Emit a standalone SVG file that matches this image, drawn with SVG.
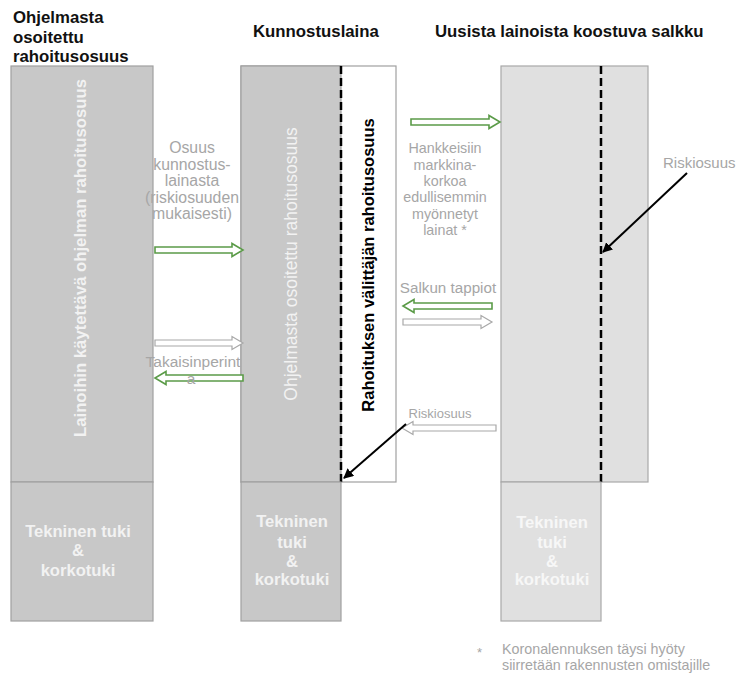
<svg xmlns="http://www.w3.org/2000/svg" width="737" height="680" viewBox="0 0 737 680">
<style>
.hd{font-family:"Liberation Sans",Arial,sans-serif;font-weight:bold;font-size:16.8px;fill:#111}
.lb{font-family:"Liberation Sans",Arial,sans-serif;fill:#a6a6a6}
.wt{font-family:"Liberation Sans",Arial,sans-serif;font-weight:bold;font-size:16.6px;fill:#f2f2f2;text-anchor:middle}
.box{fill:#c8c8c8;stroke:#a0a0a0;stroke-width:1.2}
.lbox{fill:#e0e0e0;stroke:#a8a8a8;stroke-width:1.2}
.dash{stroke:#000;stroke-width:2.5;stroke-dasharray:8,4;fill:none}
.ga{fill:#fff;stroke:#5b9b48;stroke-width:1.6}
.wa{fill:#fff;stroke:#a8a8a8;stroke-width:1.2}
.bl{stroke:#000;stroke-width:2;fill:none;marker-end:url(#ah)}
</style>
<defs>
<marker id="ah" viewBox="0 0 10 10" refX="9" refY="5" markerWidth="5" markerHeight="5" orient="auto">
<path d="M0,0 L10,5 L0,10 Z" fill="#000"/>
</marker>
</defs>
<rect width="737" height="680" fill="#fff"/>
<g id="headers">
<text class="hd" x="13" y="23">Ohjelmasta</text>
<text class="hd" x="13" y="43">osoitettu</text>
<text class="hd" x="13" y="62">rahoitusosuus</text>
<text class="hd" x="253" y="37">Kunnostuslaina</text>
<text class="hd" x="435" y="37">Uusista lainoista koostuva salkku</text>
</g>
<g id="col1">
<rect class="box" x="11" y="66" width="142" height="416"/>
<text class="wt" transform="translate(86,258) rotate(-90)" style="font-size:16.7px">Lainoihin käytettävä ohjelman rahoitusosuus</text>
</g>
<g id="col1-bottom">
<rect class="box" x="11" y="482" width="142" height="139"/>
<text class="wt" x="78" y="537">Tekninen tuki</text>
<text class="wt" x="78" y="556">&amp;</text>
<text class="wt" x="78" y="576">korkotuki</text>
</g>
<g id="col2">
<rect x="241" y="66" width="155" height="416" fill="#fff" stroke="#a0a0a0" stroke-width="1.2"/>
<rect class="box" x="241" y="66" width="100" height="416"/>
<text transform="translate(297,264) rotate(-90)" text-anchor="middle" font-family="Liberation Sans, Arial, sans-serif" font-size="17.5" fill="#f2f2f2">Ohjelmasta osoitettu rahoitusosuus</text>
<text transform="translate(374,265) rotate(-90)" text-anchor="middle" font-family="Liberation Sans, Arial, sans-serif" font-weight="bold" font-size="16.5" fill="#000">Rahoituksen välittäjän rahoitusosuus</text>
<line class="dash" x1="341" y1="66" x2="341" y2="482"/>
</g>
<g id="col2-bottom">
<rect class="box" x="241" y="482" width="100" height="139"/>
<text class="wt" x="292" y="527">Tekninen</text>
<text class="wt" x="292" y="548">tuki</text>
<text class="wt" x="292" y="567">&amp;</text>
<text class="wt" x="292" y="585">korkotuki</text>
</g>
<g id="col3">
<rect class="lbox" x="501" y="66" width="147" height="416"/>
<line class="dash" x1="601" y1="66" x2="601" y2="482"/>
</g>
<g id="col3-bottom">
<rect class="lbox" x="501" y="482" width="100" height="139"/>
<text class="wt" x="552" y="528" style="fill:#f7f7f7">Tekninen</text>
<text class="wt" x="552" y="548" style="fill:#f7f7f7">tuki</text>
<text class="wt" x="552" y="567" style="fill:#f7f7f7">&amp;</text>
<text class="wt" x="552" y="585" style="fill:#f7f7f7">korkotuki</text>
</g>
<g id="connectors">
<path class="ga" d="M155,247 H232 V243.5 L243,250 L232,256.5 V253 H155 Z"/>
<path class="wa" d="M155,340 H232 V336.5 L243,343 L232,349.5 V346 H155 Z"/>
<path class="ga" d="M243,375 H166 V371.5 L155,378 L166,384.5 V381 H243 Z"/>
<path class="ga" d="M411,119 H489 V115.5 L500,122 L489,128.5 V125 H411 Z"/>
<path class="ga" d="M492,303 H414 V299.5 L403,306 L414,312.5 V309 H492 Z"/>
<path class="wa" d="M403,319 H481 V315.5 L492,322 L481,328.5 V325 H403 Z"/>
<path class="wa" d="M496,425 H413 V421.5 L402,428 L413,434.5 V431 H496 Z"/>
<line class="bl" x1="687" y1="173" x2="603" y2="252"/>
<line class="bl" x1="406" y1="424" x2="344" y2="478"/>
</g>
<g id="labels" text-anchor="middle">
<g font-size="15.8">
<text class="lb" x="192" y="153">Osuus</text>
<text class="lb" x="192" y="170">kunnostus-</text>
<text class="lb" x="192" y="186">lainasta</text>
<text class="lb" x="192" y="203">(riskiosuuden</text>
<text class="lb" x="192" y="219">mukaisesti)</text>
</g>
<text class="lb" x="193" y="367" font-size="15.5">Takaisinperint</text>
<text class="lb" x="191" y="384" font-size="15.5">a</text>
<g font-size="14.3">
<text class="lb" x="445" y="153">Hankkeisiin</text>
<text class="lb" x="445" y="170">markkina-</text>
<text class="lb" x="445" y="186">korkoa</text>
<text class="lb" x="445" y="202">edullisemmin</text>
<text class="lb" x="445" y="219">myönnetyt</text>
<text class="lb" x="445" y="235">lainat *</text>
</g>
<text class="lb" x="448" y="293" font-size="15.2">Salkun tappiot</text>
<text class="lb" x="440" y="418" font-size="13">Riskiosuus</text>
<text class="lb" x="663" y="168" font-size="15" text-anchor="start">Riskiosuus</text>
</g>
<g id="footnote">
<text class="lb" x="477" y="657" font-size="13">*</text>
<text class="lb" x="502" y="654" font-size="14.3">Koronalennuksen täysi hyöty</text>
<text class="lb" x="502" y="670" font-size="14.3">siirretään rakennusten omistajille</text>
</g>
</svg>
